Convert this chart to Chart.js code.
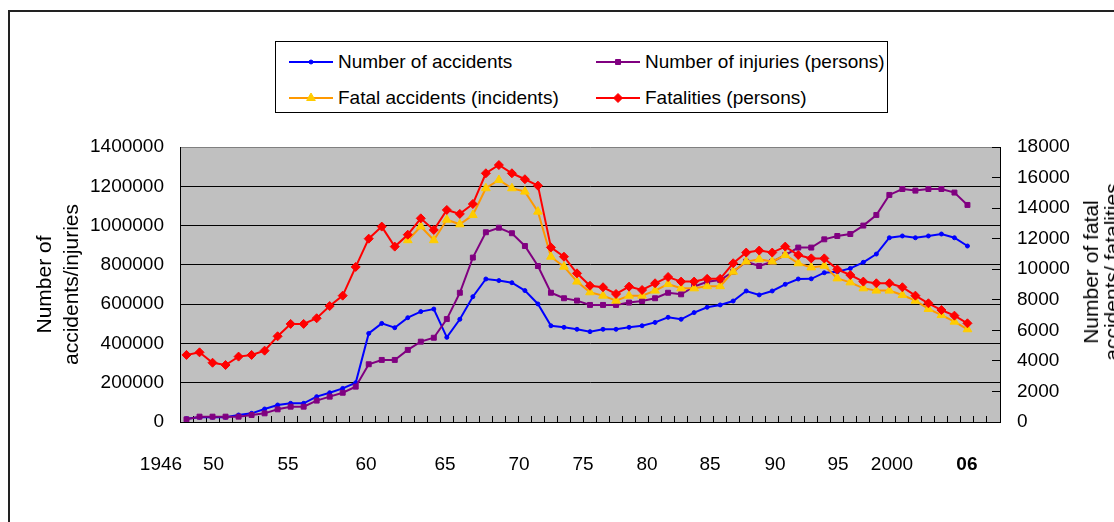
<!DOCTYPE html>
<html>
<head>
<meta charset="utf-8">
<script src="https://cdn.jsdelivr.net/npm/chart.js@4/dist/chart.umd.min.js"></script>
<style>
html,body{margin:0;padding:0;background:#fff;overflow:hidden;width:1114px;height:522px;}
#frame{position:absolute;left:8px;top:10px;width:1300px;height:700px;border:2px solid #222;box-sizing:border-box;}
#c{position:absolute;left:0;top:0;}
#legend{position:absolute;left:275px;top:41px;width:613px;height:72px;border:1px solid #000;box-sizing:border-box;background:#fff;
  font-family:'Liberation Sans',Arial,sans-serif;font-size:19px;color:#000;}
.item{position:absolute;display:flex;align-items:center;height:24px;white-space:nowrap;}
.item canvas{margin-right:5px;display:block;}
#rtitle{position:absolute;left:1101px;top:272px;transform:translate(-50%,-50%) rotate(-90deg);
  font-family:'Liberation Sans',Arial,sans-serif;font-size:21px;line-height:21px;text-align:center;white-space:nowrap;color:#000;}
</style>
</head>
<body>
<div id="frame"></div>
<canvas id="c" width="1114" height="522"></canvas>
<div id="legend"></div>
<div id="rtitle">Number of fatal<br>accidents/ fatalities</div>
<script>
// ---------- data ----------
const years = [1946,1947,1948,1949,1950,1951,1952,1953,1954,1955,1956,1957,1958,1959,1960,1961,1962,1963,1964,1965,
  1966,1967,1968,1969,1970,1971,1972,1973,1974,1975,1976,1977,1978,1979,1980,1981,1982,1983,1984,1985,
  1986,1987,1988,1989,1990,1991,1992,1993,1994,1995,1996,1997,1998,1999,2000,2001,2002,2003,2004,2005,
  2006,2007,2008];

const accidents = [17000,23800,23800,23800,35600,44100,66200,86500,95000,95000,129000,149000,171000,200000,451000,502000,480000,531000,562000,575000,
  431000,523000,638000,728000,720000,709000,669000,601000,490000,482000,472000,460000,472000,472000,482000,490000,507000,533000,523000,557000,
  584000,596000,616000,667000,647000,667000,701000,728000,729000,760000,765000,782000,813000,855000,938000,947000,938000,947000,957000,938000,
  896000];

const injuries = [13600,27200,27200,27200,27200,35600,44100,64500,78000,78000,109000,129000,149000,180000,294000,316000,316000,367000,409000,429000,
  524000,658000,837000,966000,989000,961000,896000,794000,658000,630000,618000,596000,596000,596000,608000,616000,630000,658000,650000,689000,
  714000,723000,765000,816000,794000,816000,850000,888000,888000,930000,947000,957000,1000000,1054000,1156000,1186000,1178000,1186000,1186000,1168000,
  1105000];

const fatalAccidents = [null,null,null,null,null,null,null,null,null,null,null,null,null,null,null,null,null,11900,12800,11900,
  13240,12940,13550,15300,15840,15300,15080,13770,10820,10170,9190,8490,8270,7940,8270,8270,8600,9030,8750,8750,
  8890,8890,9840,10500,10650,10500,10930,10390,10120,10230,9400,9140,8750,8600,8600,8310,7940,7400,7000,6570,
  6070];

const fatalities = [4390,4560,3880,3730,4280,4390,4670,5610,6420,6420,6790,7590,8270,10150,12000,12790,11480,12260,13330,12570,
  13880,13620,14270,16280,16820,16280,15890,15470,11430,10820,9730,8920,8820,8380,8860,8640,9080,9490,9190,9190,
  9370,9370,10390,11090,11220,11090,11480,10930,10710,10710,9990,9620,9190,9080,9080,8820,8270,7770,7330,6960,
  6460];

const yearTickLabels = ["1946","50","55","60","65","70","75","80","85","90","95","2000","06"];
// layout: where each year label sits, in category units along the x scale
const yearTickPos = [-1.96,2.07,7.80,13.79,19.86,25.55,30.46,35.38,40.22,45.21,50.05,54.20,59.96];

// ---------- chart ----------
const FONT = "'Liberation Sans', Arial, sans-serif";
Chart.defaults.font.family = FONT;
Chart.defaults.font.size = 19;
Chart.defaults.color = '#000';

const bgPlugin = {
  id: 'plotBg',
  beforeDraw(chart) {
    const {ctx, chartArea: a} = chart;
    ctx.save();
    ctx.fillStyle = '#C0C0C0';
    ctx.fillRect(a.left, a.top, a.right - a.left, a.bottom - a.top);
    ctx.restore();
  }
};

const datasets = [
  {label: 'Number of accidents', data: accidents, yAxisID: 'y', borderColor: '#0000FF', backgroundColor: '#0000FF',
   pointStyle: 'circle', pointRadius: 2, pointBorderWidth: 1, order: 4},
  {label: 'Number of injuries (persons)', data: injuries, yAxisID: 'y', borderColor: '#800080', backgroundColor: '#800080',
   pointStyle: 'rect', pointRadius: 3.5, pointBorderWidth: 1, order: 3},
  {label: 'Fatal accidents (incidents)', data: fatalAccidents, yAxisID: 'y1', borderColor: '#FF9900', backgroundColor: '#FFCC00',
   pointBorderColor: '#FFCC00', pointStyle: 'triangle', pointRadius: 5, pointBorderWidth: 1, order: 2},
  {label: 'Fatalities (persons)', data: fatalities, yAxisID: 'y1', borderColor: '#FF0000', backgroundColor: '#FF0000',
   pointStyle: 'rectRot', pointRadius: 4.5, pointBorderWidth: 1, order: 1}
];
datasets.forEach(d => { d.borderWidth = 2; d.tension = 0; d.spanGaps = false; d.fill = false; d.xAxisID = 'x'; });

const chart = new Chart(document.getElementById('c'), {
  type: 'line',
  data: {labels: years.map(String), datasets},
  plugins: [bgPlugin],
  options: {
    responsive: false,
    animation: false,
    devicePixelRatio: 1,
    layout: {padding: {left: 0, right: 0, top: 147, bottom: 0}},
    plugins: {legend: {display: false}, tooltip: {enabled: false}, title: {display: false}},
    scales: {
      x: {
        type: 'category', position: 'bottom', offset: true, weight: 0,
        grid: {display: true, offset: true, drawOnChartArea: false, drawTicks: true, tickLength: -6, color: '#000', lineWidth: 1},
        border: {display: true, color: '#000', width: 1},
        ticks: {display: false, autoSkip: false},
        afterFit(s) { s.height = 0; }
      },
      xl: {
        type: 'linear', position: 'bottom', weight: 1, min: -0.5, max: 62.5,
        grid: {display: false, drawTicks: false},
        border: {display: false},
        ticks: {
          autoSkip: false, maxRotation: 0, minRotation: 0, padding: 31,
          callback: (v, i) => yearTickLabels[i],
          font: (ctx) => ({family: FONT, size: 19, weight: ctx.index === yearTickLabels.length - 1 ? 'bold' : 'normal'})
        },
        afterBuildTicks(s) { s.ticks = yearTickPos.map(v => ({value: v})); },
        afterFit(s) { s.height = 100; }
      },
      y: {
        type: 'linear', position: 'left', min: 0, max: 1400000,
        ticks: {stepSize: 200000, padding: 16, callback: v => String(v)},
        grid: {color: (c) => (c.tick && c.tick.value === 1400000) ? '#808080' : '#000', lineWidth: 1, drawTicks: false},
        border: {display: true, color: '#000', width: 1},
        title: {display: true, text: ['Number of', 'accidents/injuries'],
                font: {family: FONT, size: 21, lineHeight: 1.286}, padding: {top: 31.5, bottom: 0}},
        afterFit(s) { s.width = 180; }
      },
      y1: {
        type: 'linear', position: 'right', min: 0, max: 18000,
        ticks: {stepSize: 2000, padding: 25, callback: v => String(v)},
        grid: {drawOnChartArea: false, drawTicks: true, tickLength: -8, color: '#000', lineWidth: 1},
        border: {display: true, color: '#000', width: 1},
        afterFit(s) { s.width = 114; }
      }
    }
  }
});

// ---------- HTML legend built from the chart's datasets ----------
const legendEl = document.getElementById('legend');
const slots = [{x: 13, y: 8}, {x: 320, y: 8}, {x: 13, y: 44}, {x: 320, y: 44}];
chart.data.datasets.forEach((ds, i) => {
  const item = document.createElement('div');
  item.className = 'item';
  item.style.left = slots[i].x + 'px';
  item.style.top = slots[i].y + 'px';
  const cv = document.createElement('canvas');
  cv.width = 44; cv.height = 14;
  const g = cv.getContext('2d');
  g.strokeStyle = ds.borderColor; g.lineWidth = 2;
  g.beginPath(); g.moveTo(0, 7); g.lineTo(44, 7); g.stroke();
  g.fillStyle = ds.backgroundColor;
  g.strokeStyle = ds.pointBorderColor || ds.borderColor;
  g.lineWidth = ds.pointBorderWidth;
  Chart.helpers.drawPoint(g, {pointStyle: ds.pointStyle, radius: ds.pointRadius, borderWidth: ds.pointBorderWidth, rotation: 0}, 22, 7);
  item.appendChild(cv);
  const t = document.createElement('span');
  t.textContent = ds.label;
  item.appendChild(t);
  legendEl.appendChild(item);
});
</script>
</body>
</html>
